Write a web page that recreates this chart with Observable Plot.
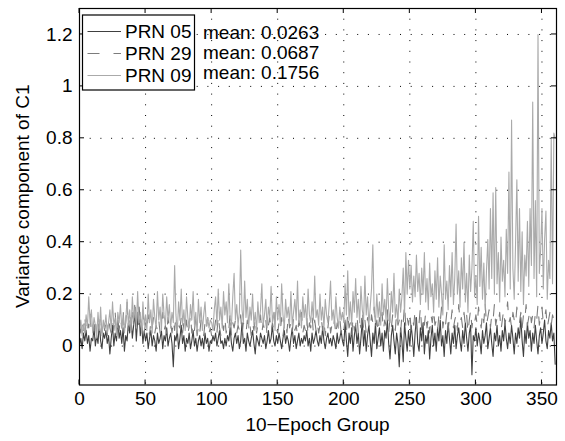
<!DOCTYPE html>
<html><head><meta charset="utf-8">
<script src="https://cdn.jsdelivr.net/npm/d3@7"></script>
<script src="https://cdn.jsdelivr.net/npm/@observablehq/plot@0.6"></script>
<style>body{margin:0;background:#fff} svg{display:block}</style>
</head><body><div id="chart"></div>
<script>
const seriesNames = ["PRN 05", "PRN 29", "PRN 09"];
const meanLabels = ["mean: 0.0263", "mean: 0.0687", "mean: 0.1756"];
const xTicks = [0, 50, 100, 150, 200, 250, 300, 350];
const yTicks = [0, 0.2, 0.4, 0.6, 0.8, 1, 1.2];
const xLabel = "10\u2212Epoch Group";
const yLabel = "Variance component of C1";

const prn05 = [
0.00,0.03,-0.01,0.05,0.02,0.06,0.01,0.04,-0.02,0.03,
0.02,0.07,0.00,0.04,0.01,0.09,0.02,-0.01,0.05,0.03,
0.06,0.01,0.04,-0.03,0.03,0.08,0.00,0.05,0.02,0.10,
0.03,0.06,0.01,0.07,-0.02,0.04,0.02,0.09,0.05,0.11,
0.03,0.08,0.13,0.02,0.10,0.15,0.04,0.09,0.01,0.06,
0.02,0.05,-0.01,0.03,0.06,0.00,0.04,0.02,-0.02,0.05,
0.01,0.03,0.06,-0.01,0.04,0.02,0.07,0.00,0.03,0.05,
0.01,-0.08,0.04,0.02,0.06,-0.01,0.03,0.08,0.01,0.04,
-0.02,0.03,0.01,0.05,-0.01,0.02,0.06,0.00,0.03,-0.02,
0.02,0.04,0.00,0.03,-0.01,0.05,0.01,0.03,-0.02,0.02,
0.01,0.04,0.02,0.05,0.00,0.03,0.06,0.01,0.02,-0.01,
0.03,0.00,0.04,0.02,0.07,0.01,-0.02,0.03,0.05,0.01,
0.04,-0.01,0.02,0.09,0.01,0.03,-0.02,0.05,0.02,0.00,
0.03,0.06,0.01,-0.03,0.04,0.02,0.00,0.05,0.03,0.01,
0.04,-0.01,0.02,0.06,0.01,0.03,0.08,0.02,0.00,0.04,
0.01,0.05,0.02,-0.01,0.03,0.06,0.01,0.04,0.02,-0.02,
0.03,0.07,0.01,0.04,-0.01,0.02,0.05,0.00,0.03,0.01,
0.04,0.02,0.06,0.00,0.03,-0.02,0.05,0.01,0.03,0.06,
0.02,0.00,0.04,0.01,0.07,0.02,-0.01,0.03,0.05,0.01,
0.03,0.00,0.04,0.02,-0.01,0.05,0.01,0.03,0.06,0.02,
0.00,0.09,0.02,-0.04,0.05,0.01,0.07,-0.02,0.04,0.08,
0.01,0.05,-0.03,0.03,0.10,0.00,0.06,-0.02,0.04,0.08,
0.02,-0.04,0.05,0.01,0.09,-0.01,0.03,0.07,0.00,0.05,
-0.02,0.06,0.03,0.10,0.01,-0.05,0.04,0.08,0.02,-0.03,
0.05,0.01,-0.08,0.07,0.02,-0.06,0.09,0.03,-0.02,0.06,
0.00,0.08,0.03,-0.04,0.05,0.11,0.01,-0.02,0.07,0.02,
0.09,-0.03,0.04,0.01,0.06,-0.05,0.03,0.08,0.00,0.05,
-0.02,0.07,0.02,0.10,0.00,0.04,-0.04,0.06,0.01,0.09,
0.03,-0.03,0.05,0.01,0.08,-0.01,0.04,0.07,0.02,-0.02,
0.06,0.01,0.09,0.03,-0.02,0.05,0.08,-0.11,0.04,0.02,
0.07,0.00,0.05,0.02,-0.03,0.06,0.01,0.04,0.09,-0.01,
0.03,0.07,0.01,-0.04,0.05,0.02,0.08,0.00,0.04,-0.02,
0.06,0.02,0.09,0.03,-0.01,0.05,0.01,0.08,0.03,-0.03,
0.05,0.01,0.07,0.03,0.11,0.02,-0.04,0.06,0.01,0.09,
0.03,0.06,-0.02,0.05,0.01,0.08,0.02,-0.03,0.04,0.07,
0.01,0.05,0.10,0.02,-0.01,0.06,0.03,0.09,0.02,0.05,-0.07
];

const prn29 = [
0.08,0.05,0.10,0.06,0.12,0.04,0.09,0.07,0.13,0.05,
0.08,0.06,0.11,0.04,0.09,0.07,0.12,0.05,0.10,0.06,
0.09,0.04,0.11,0.07,0.05,0.10,0.06,0.13,0.05,0.08,
0.06,0.11,0.07,0.14,0.05,0.09,0.17,0.06,0.12,0.08,
0.15,0.07,0.18,0.09,0.13,0.06,0.11,0.08,0.14,0.05,
0.09,0.06,0.12,0.04,0.10,0.07,0.11,0.05,0.08,0.06,
0.10,0.05,0.09,0.13,0.06,0.08,0.04,0.11,0.07,0.09,
0.05,0.10,0.06,0.12,0.04,0.08,0.07,0.11,0.05,0.09,
0.06,0.10,0.04,0.08,0.12,0.05,0.09,0.06,0.11,0.04,
0.08,0.05,0.10,0.07,0.04,0.09,0.06,0.11,0.05,0.07,
0.04,0.08,0.06,0.10,0.05,0.12,0.07,0.04,0.09,0.06,
0.11,0.05,0.08,0.06,0.13,0.04,0.09,0.07,0.10,0.05,
0.08,0.06,0.12,0.04,0.09,0.07,0.05,0.10,0.06,0.08,
0.04,0.09,0.06,0.11,0.05,0.08,0.07,0.12,0.05,0.09,
0.06,0.10,0.04,0.08,0.11,0.05,0.09,0.06,0.13,0.07,
0.05,0.09,0.06,0.11,0.04,0.08,0.10,0.05,0.12,0.07,
0.09,0.05,0.11,0.06,0.08,0.04,0.10,0.07,0.13,0.05,
0.08,0.06,0.11,0.04,0.09,0.07,0.12,0.05,0.10,0.06,
0.09,0.05,0.08,0.11,0.06,0.10,0.04,0.09,0.07,0.12,
0.05,0.08,0.06,0.10,0.04,0.09,0.07,0.11,0.05,0.08,
0.06,0.10,0.05,0.13,0.07,0.09,0.04,0.11,0.06,0.08,
0.12,0.05,0.09,0.07,0.14,0.06,0.10,0.05,0.11,0.08,
0.06,0.12,0.09,0.15,0.07,0.10,0.05,0.11,0.08,0.13,
0.06,0.10,0.08,0.14,0.05,0.11,0.07,0.12,0.09,0.06,
0.13,0.08,0.10,0.05,0.12,0.09,0.16,0.07,0.11,0.08,
0.13,0.06,0.10,0.08,0.14,0.07,0.11,0.09,0.15,0.06,
0.10,0.08,0.13,0.07,0.11,0.05,0.12,0.09,0.14,0.08,
0.10,0.06,0.12,0.09,0.15,0.07,0.11,0.08,0.13,0.06,
0.11,0.09,0.14,0.07,0.10,0.12,0.06,0.16,0.09,0.11,
0.07,0.13,0.08,0.12,0.05,0.10,0.14,0.07,0.11,0.09,
0.12,0.08,0.15,0.10,0.07,0.13,0.09,0.17,0.08,0.11,
0.14,0.07,0.12,0.10,0.16,0.08,0.11,0.09,0.13,0.06,
0.10,0.14,0.08,0.12,0.17,0.09,0.11,0.07,0.13,0.10,
0.08,0.15,0.11,0.09,0.13,0.07,0.12,0.10,0.16,0.08,
0.11,0.14,0.09,0.12,0.07,0.13,0.10,0.16,0.08,0.12,
0.15,0.09,0.11,0.14,0.07,0.10,0.13,0.08,0.12,0.10,0.14
];

const prn09 = [
0.06,0.10,0.04,0.08,0.05,0.12,0.07,0.19,0.09,0.14,
0.05,0.11,0.08,0.03,0.13,0.06,0.15,0.04,0.10,0.07,
0.12,0.05,0.09,0.14,0.06,0.17,0.08,0.11,0.04,0.13,
0.09,0.16,0.07,0.12,0.05,0.10,0.18,0.08,0.14,0.06,
0.19,0.10,0.15,0.07,0.21,0.09,0.13,0.05,0.17,0.08,
0.12,0.06,0.20,0.09,0.14,0.05,0.18,0.11,0.07,0.21,
0.10,0.15,0.06,0.20,0.12,0.08,0.19,0.10,0.16,0.07,
0.13,0.09,0.31,0.12,0.05,0.17,0.10,0.22,0.08,0.14,
0.06,0.19,0.11,0.07,0.16,0.10,0.21,0.08,0.13,0.05,
0.18,0.09,0.15,0.06,0.12,0.17,0.08,0.11,0.07,0.10,
0.09,0.06,0.14,0.19,0.08,0.22,0.10,0.15,0.07,0.21,
0.12,0.17,0.09,0.24,0.11,0.08,0.19,0.28,0.10,0.16,
0.08,0.13,0.37,0.14,0.09,0.25,0.11,0.18,0.07,0.15,
0.10,0.20,0.08,0.13,0.06,0.17,0.09,0.14,0.24,0.08,
0.12,0.18,0.07,0.15,0.11,0.23,0.09,0.13,0.06,0.19,
0.10,0.16,0.08,0.24,0.12,0.07,0.18,0.11,0.15,0.09,
0.21,0.08,0.13,0.18,0.10,0.25,0.09,0.14,0.07,0.19,
0.11,0.16,0.08,0.22,0.12,0.09,0.17,0.10,0.27,0.11,
0.14,0.08,0.20,0.10,0.15,0.07,0.18,0.12,0.09,0.16,
0.25,0.10,0.14,0.08,0.19,0.11,0.07,0.15,0.10,0.13,
0.09,0.24,0.12,0.29,0.10,0.17,0.08,0.21,0.13,0.26,
0.11,0.18,0.09,0.23,0.14,0.10,0.27,0.12,0.19,0.08,
0.15,0.22,0.39,0.13,0.09,0.20,0.11,0.17,0.08,0.24,
0.12,0.18,0.10,0.26,0.14,0.09,0.21,0.13,0.28,0.11,
0.16,0.09,0.22,0.13,0.19,0.30,0.12,0.36,0.20,0.33,
0.22,0.31,0.17,0.27,0.19,0.35,0.21,0.28,0.16,0.30,
0.20,0.36,0.17,0.26,0.14,0.32,0.19,0.24,0.13,0.29,
0.18,0.34,0.15,0.27,0.20,0.12,0.39,0.18,0.25,0.14,
0.31,0.19,0.36,0.16,0.26,0.47,0.20,0.29,0.15,0.34,
0.22,0.40,0.17,0.28,0.13,0.35,0.21,0.30,0.48,0.19,
0.27,0.16,0.50,0.23,0.38,0.18,0.32,0.14,0.29,0.41,
0.22,0.53,0.26,0.59,0.20,0.61,0.24,0.36,0.17,0.42,
0.25,0.33,0.19,0.45,0.28,0.67,0.22,0.87,0.30,0.18,
0.39,0.64,0.25,0.53,0.21,0.44,0.16,0.35,0.27,0.48,
0.23,0.53,0.31,0.94,0.26,0.56,0.19,1.20,0.28,0.37,
0.53,0.22,0.41,0.52,0.18,0.33,0.26,0.80,0.24,0.82,0.80
];

const colors = ["#404040", "#7c7c7c", "#aaaaaa"];
const dashes = [null, "12,14", null];
const font = "'Liberation Sans', Arial, Helvetica, sans-serif";
const fs = 19;

const seriesArrays = [prn05, prn29, prn09];
const tables = seriesArrays.map((arr, k) => arr.map((v, i) => ({series: seriesNames[k], epoch: i, value: v})));

const grid = {stroke: "#000", strokeOpacity: 1, strokeWidth: 1, strokeDasharray: "1,9.7"};

const plot = Plot.plot({
  width: 565, height: 441,
  marginLeft: 79, marginRight: 9, marginTop: 8, marginBottom: 56.5,
  style: {fontFamily: font, fontSize: fs + "px", background: "#fff", color: "#000"},
  x: {domain: [0, 361]},
  y: {domain: [-0.15, 1.3]},
  marks: [
    Plot.gridX(xTicks, grid),
    Plot.gridY(yTicks, grid),
    Plot.axisX(xTicks, {anchor: "bottom", tickSize: 0, tickPadding: 6, label: null, tickFormat: d => String(d), fontSize: fs}),
    Plot.axisY(yTicks, {anchor: "left", tickSize: 0, tickPadding: 7, label: null, tickFormat: d => String(d), fontSize: fs}),
    ...tables.map((t, k) => Plot.line(t, {x: "epoch", y: "value", stroke: colors[k], strokeWidth: 1.1, strokeDasharray: dashes[k]})),
    Plot.frame({stroke: "#000", strokeWidth: 1.2})
  ]
});

document.getElementById("chart").appendChild(plot);

// inward tick marks on all four sides (MATLAB style)
const sx = plot.scale("x"), sy = plot.scale("y");
const [L, R] = sx.range, [B, T] = sy.range;
const svg = d3.select(plot);
const tg = svg.append("g").attr("stroke", "#000").attr("stroke-width", 1);
const tl = 5;
xTicks.forEach(t => {
  const x = sx.apply(t);
  tg.append("line").attr("x1", x).attr("x2", x).attr("y1", B).attr("y2", B - tl);
  tg.append("line").attr("x1", x).attr("x2", x).attr("y1", T).attr("y2", T + tl);
});
yTicks.forEach(t => {
  const y = sy.apply(t);
  tg.append("line").attr("x1", L).attr("x2", L + tl).attr("y1", y).attr("y2", y);
  tg.append("line").attr("x1", R).attr("x2", R - tl).attr("y1", y).attr("y2", y);
});

// axis titles
const txt = svg.append("g").attr("font-family", font).attr("font-size", fs).attr("fill", "#000");
txt.append("text").attr("x", (L + R) / 2).attr("y", 431).attr("text-anchor", "middle").text(xLabel);
txt.append("text").attr("transform", `translate(22,${(T + B) / 2}) rotate(-90)`).attr("text-anchor", "middle").attr("dy", "0.35em").text(yLabel);

// legend box (top-left inside the axes)
const lg = svg.append("g").attr("transform", "translate(82.5,15)");
lg.append("rect").attr("width", 112).attr("height", 75).attr("fill", "#fff").attr("stroke", "#000").attr("stroke-width", 1.2);
seriesNames.forEach((name, k) => {
  const y = 16.5 + k * 22;
  lg.append("line").attr("x1", 5).attr("x2", 38.5).attr("y1", y).attr("y2", y)
    .attr("stroke", colors[k]).attr("stroke-width", 1.1).attr("stroke-dasharray", dashes[k]);
  lg.append("text").attr("x", 109).attr("y", y).attr("dy", "0.35em").attr("text-anchor", "end")
    .attr("font-family", font).attr("font-size", fs).attr("fill", "#000").text(name);
});
// mean annotations (drawn after the legend so they stay visible)
const mg = svg.append("g").attr("font-family", font).attr("font-size", fs).attr("fill", "#000").attr("text-anchor", "start");
meanLabels.forEach((m, k) => {
  mg.append("text").attr("x", 203).attr("y", 32 + k * 20).attr("dy", "0.35em").text(m);
});
</script>
</body></html>
